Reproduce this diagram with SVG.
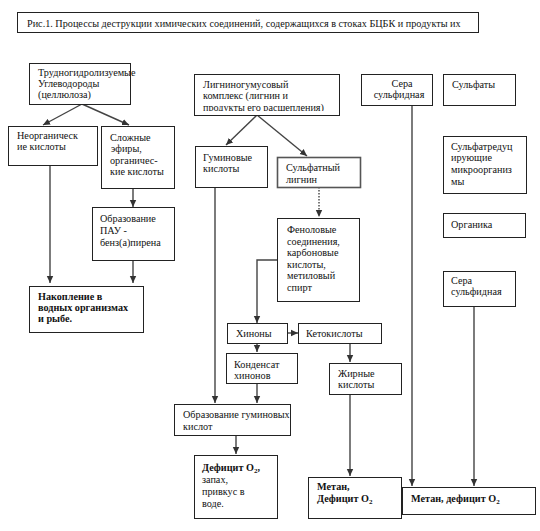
<svg xmlns="http://www.w3.org/2000/svg" width="540" height="531" viewBox="0 0 540 531">
<style>
rect.b{fill:#fff;stroke:#222;stroke-width:1}
text{font-family:'Liberation Serif','Times New Roman',serif;font-size:10.2px;fill:#111}
text.bd{font-weight:bold}
.c line,.c polyline{stroke:#444;stroke-width:1.4;fill:none}
.c .dot{stroke-dasharray:1.5 1.5}
</style>
<defs>
<marker id="ah" markerUnits="userSpaceOnUse" markerWidth="8" markerHeight="8" viewBox="0 0 8 8" refX="7" refY="4" orient="auto">
<path d="M0,0.8 L7,4 L0,7.2 z" fill="#333"/>
</marker>
<clipPath id="clipL"><rect x="194" y="74" width="145" height="37"/></clipPath>
</defs>
<rect width="540" height="531" fill="#fff"/>

<g id="title"><rect class="b" x="17.5" y="12.5" width="461" height="20"/><text x="27" y="27">Рис.1. Процессы деструкции химических соединений, содержащихся в стоках БЦБК и продукты их</text></g>

<g class="c" id="connectors" marker-end="url(#ah)">
<line x1="82" y1="104" x2="43" y2="125"/>
<line x1="82" y1="104" x2="129" y2="125"/>
<line x1="50" y1="165" x2="50" y2="283"/>
<line x1="133" y1="188" x2="133" y2="207"/>
<line x1="133" y1="260" x2="133" y2="283"/>
<line x1="257" y1="115" x2="226" y2="145"/>
<line x1="257" y1="115" x2="307" y2="156"/>
<line x1="215" y1="187" x2="215" y2="403"/>
<line class="dot" x1="319" y1="187" x2="319" y2="217"/>
<polyline points="277,260 257,260 257,323"/>
<line x1="287" y1="333" x2="298" y2="333"/>
<line x1="257" y1="343" x2="257" y2="352"/>
<line x1="257" y1="383" x2="257" y2="403"/>
<line x1="236" y1="435" x2="236" y2="454"/>
<line x1="350" y1="343" x2="350" y2="362"/>
<line x1="350" y1="394" x2="350" y2="476"/>
<line x1="412" y1="105" x2="412" y2="486"/>
<line x1="474" y1="306" x2="474" y2="486"/>
</g>

<g id="n_cellulose"><rect class="b" x="29.5" y="63.5" width="101" height="41"/><text x="38" y="76">Трудногидролизуемые</text><text x="38" y="87">Углеводороды</text><text x="38" y="98">(целлюлоза)</text></g>
<g id="n_inorg"><rect class="b" x="8.5" y="126.5" width="89" height="39"/><text x="17" y="139">Неорганическ</text><text x="17" y="150">ие кислоты</text></g>
<g id="n_esters"><rect class="b" x="101.5" y="126.5" width="73" height="62"/><text x="110" y="141">Сложные</text><text x="111" y="152">эфиры,</text><text x="110" y="164">органичес-</text><text x="110" y="175">кие кислоты</text></g>
<g id="n_pah"><rect class="b" x="92.5" y="207.5" width="82" height="53"/><text x="100" y="222">Образование</text><text x="100" y="234">ПАУ -</text><text x="100" y="246">бенз(а)пирена</text></g>
<g id="n_accum"><rect class="b" x="29.5" y="286.5" width="114" height="46"/><text class="bd" x="38" y="300">Накопление в</text><text class="bd" x="38" y="311">водных организмах</text><text class="bd" x="38" y="322">и рыбе.</text></g>

<g id="n_lignin"><rect class="b" x="194.5" y="74.5" width="145" height="41"/><g clip-path="url(#clipL)"><text x="203" y="88">Лигниногумусовый</text><text x="203" y="99">комплекс (лигнин и</text><text x="203" y="111">продукты его расщепления)</text></g></g>
<g id="n_humic"><rect class="b" x="195.5" y="146.5" width="72" height="41"/><text x="203" y="161">Гуминовые</text><text x="203" y="172">кислоты</text></g>
<g id="n_sulflig"><rect class="b" x="277.5" y="157.5" width="83" height="30" style="stroke:#555;stroke-width:1.6"/><text x="286" y="171">Сульфатный</text><text x="286" y="183">лигнин</text></g>
<g id="n_phenol"><rect class="b" x="277.5" y="218.5" width="82" height="83"/><text x="287" y="233">Феноловые</text><text x="287" y="245">соединения,</text><text x="287" y="256">карбоновые</text><text x="287" y="268">кислоты,</text><text x="287" y="279">метиловый</text><text x="287" y="291">спирт</text></g>
<g id="n_quin"><rect class="b" x="227.5" y="323.5" width="60" height="20"/><text x="236" y="337">Хиноны</text></g>
<g id="n_keto"><rect class="b" x="298.5" y="323.5" width="83" height="20"/><text x="306" y="337">Кетокислоты</text></g>
<g id="n_cond"><rect class="b" x="226.5" y="353.5" width="71" height="30"/><text x="234" y="368">Конденсат</text><text x="234" y="379">хинонов</text></g>
<g id="n_fatty"><rect class="b" x="329.5" y="363.5" width="72" height="31"/><text x="338" y="377">Жирные</text><text x="338" y="388">кислоты</text></g>
<g id="n_humform"><rect class="b" x="174.5" y="404.5" width="116" height="31"/><text x="183" y="418">Образование гуминовых</text><text x="183" y="430">кислот</text></g>
<g id="n_def"><rect class="b" x="194.5" y="455.5" width="83" height="63"/><text x="202" y="471" font-weight="bold">Дефицит О<tspan font-size="7" dy="2">2</tspan><tspan dy="-2">,</tspan></text><text x="202" y="483">запах,</text><text x="202" y="495">привкус в</text><text x="202" y="507">воде.</text></g>
<g id="n_methane1"><rect class="b" x="308.5" y="477.5" width="93" height="41"/><text class="bd" x="317" y="490">Метан,</text><text class="bd" x="317" y="502">Дефицит О<tspan font-size="7" dy="2">2</tspan></text></g>

<g id="n_sulfur1"><rect class="b" x="361.5" y="74.5" width="71" height="31"/><text x="402" y="87" text-anchor="middle">Сера</text><text x="399" y="98" text-anchor="middle">сульфидная</text></g>
<g id="n_sulfates"><rect class="b" x="443.5" y="74.5" width="72" height="31"/><text x="452" y="88">Сульфаты</text></g>
<g id="n_srb"><rect class="b" x="443.5" y="136.5" width="83" height="57"/><text x="451" y="150">Сульфатредуц</text><text x="451" y="161">ирующие</text><text x="451" y="173">микроорганиз</text><text x="451" y="185">мы</text></g>
<g id="n_organic"><rect class="b" x="443.5" y="213.5" width="82" height="24"/><text x="451" y="228">Органика</text></g>
<g id="n_sulfur2"><rect class="b" x="443.5" y="271.5" width="72" height="35"/><text x="451" y="284">Сера</text><text x="451" y="295">сульфидная</text></g>
<g id="n_methane2"><rect class="b" x="402.5" y="487.5" width="133" height="27"/><text class="bd" x="411" y="502">Метан, дефицит О<tspan font-size="7" dy="2">2</tspan></text></g>
</svg>
